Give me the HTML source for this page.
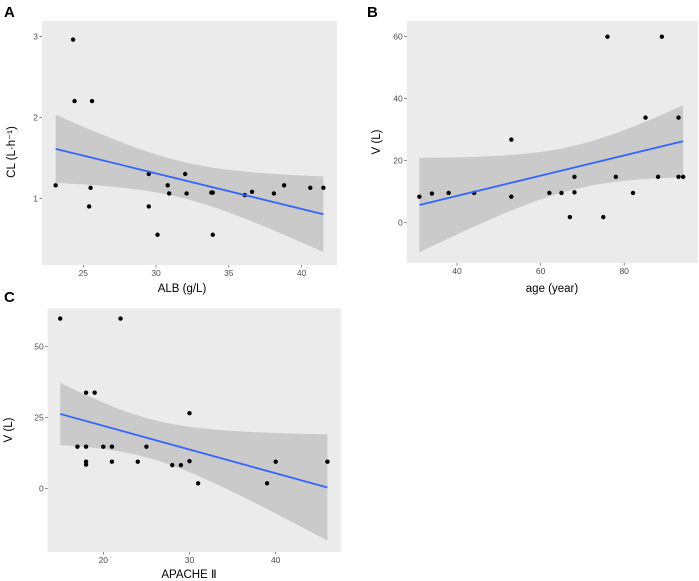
<!DOCTYPE html>
<html><head><meta charset="utf-8"><style>
body{margin:0;background:#fff;}
svg{display:block;font-family:"Liberation Sans",sans-serif;}
.tk{font-size:8.5px;fill:#4d4d4d;}
.ttl{font-size:11.5px;fill:#000;}
.pl{font-size:15px;font-weight:bold;fill:#000;}
</style></head><body>
<svg id="s" width="699" height="581" viewBox="0 0 699 581">
<text class="pl" x="4" y="17">A</text>
<text class="pl" x="367" y="17">B</text>
<text class="pl" x="4" y="302">C</text>
</svg>
<script>
const albX=[23.1,24.3,24.4,25.6,25.4,25.5,29.5,29.5,30.1,30.8,30.9,32.0,32.1,33.8,33.9,33.9,36.1,36.6,38.1,38.8,40.6,41.5];
const clY=[1.16,2.96,2.2,2.2,0.9,1.13,1.3,0.9,0.55,1.16,1.06,1.3,1.06,1.07,1.07,0.55,1.04,1.08,1.06,1.16,1.13,1.13];
const ageX=[31,34,38,44.1,53,53,62.1,65,67,68.1,68.1,75,76,78,82.1,85.1,88.1,89,93,93,94.1];
const vAgeY=[8.4,9.4,9.6,9.6,26.8,8.4,9.6,9.6,1.8,14.8,9.8,1.8,60,14.8,9.6,33.9,14.8,60,33.9,14.8,14.8];
const apX=[15,22,18,19,30,17,18,20,21,25,18,18,21,24,28,29,30,31,39,40,46];
const vApY=[59.9,59.9,33.8,33.8,26.6,14.8,14.8,14.8,14.8,14.8,9.5,8.5,9.5,9.5,8.3,8.3,9.7,1.9,1.9,9.5,9.5];
const aTicksX=[25,30,35,40], aTicksY=[1,2,3];
const bTicksX=[40,60,80], bTicksY=[0,20,40,60];
const cTicksX=[20,30,40], cTicksY=[0,25,50];
const NS="http://www.w3.org/2000/svg";
const svg=document.getElementById('s');
function mk(tag,attrs,parent){const e=document.createElementNS(NS,tag);for(const k in attrs)e.setAttribute(k,attrs[k]);(parent||svg).appendChild(e);return e;}
function panel(id,box,xs,ys,xt,yt,xlab,ylab,xsc,ysc,xtitle,ytitle){
  const g=mk('g',{});
  
  
  const bg=mk('rect',{x:box[0],y:box[1],width:box[2]-box[0],height:box[3]-box[1],fill:'#ebebeb'},g);
  
  
  // regression
  const n=xs.length;let mx=0,my=0;for(let i=0;i<n;i++){mx+=xs[i];my+=ys[i];}mx/=n;my/=n;
  let sxx=0,sxy=0;for(let i=0;i<n;i++){sxx+=(xs[i]-mx)**2;sxy+=(xs[i]-mx)*(ys[i]-my);}
  const b=sxy/sxx,a=my-b*mx;let sse=0;for(let i=0;i<n;i++)sse+=(ys[i]-a-b*xs[i])**2;
  const s=Math.sqrt(sse/(n-2)),t=2.09;
  const x0=Math.min(...xs),x1=Math.max(...xs);const up=[],lo=[];
  for(let k=0;k<=60;k++){const x=x0+(x1-x0)*k/60;const f=a+b*x;const h=t*s*Math.sqrt(1/n+(x-mx)**2/sxx);up.push(xsc(x)+','+ysc(f+h));lo.unshift(xsc(x)+','+ysc(f-h));}
  const band=mk('polygon',{points:up.concat(lo).join(' '),fill:'#999',opacity:0.4},g);
  
  
  for(let i=0;i<n;i++){const c=mk('circle',{cx:xsc(xs[i]),cy:ysc(ys[i]),r:2.2,fill:'#000'},g);
    
    }
  const ln=mk('line',{x1:xsc(x0),y1:ysc(a+b*x0),x2:xsc(x1),y2:ysc(a+b*x1),stroke:'#3366ff','stroke-width':1.8},g);
  
  
  xt.forEach(v=>{const X=xsc(v);mk('line',{x1:X,x2:X,y1:box[3],y2:box[3]+2.5,stroke:'#333','stroke-width':0.6},g);
    const tx=mk('text',{x:X,y:box[3]+11,'text-anchor':'middle',class:'tk'},g);tx.textContent=v;
    
    });
  yt.forEach(v=>{const Y=ysc(v);mk('line',{x1:box[0]-2.5,x2:box[0],y1:Y,y2:Y,stroke:'#333','stroke-width':0.6},g);
    const tx=mk('text',{x:box[0]-4,y:Y+3,'text-anchor':'end',class:'tk'},g);tx.textContent=v;
    
    });
  const xl=mk('text',{x:xtitle[0],y:xtitle[1],'text-anchor':'middle',class:'ttl'},g);xl.textContent=xlab;
  
  
  const yl=mk('text',{x:0,y:0,'text-anchor':'middle',class:'ttl',transform:`translate(${ytitle[0]},${ytitle[1]}) rotate(-90)`},g);yl.textContent=ylab;
  
  
}
panel('a',[42,21,337,265],albX,clY,aTicksX,aTicksY,'ALB (g/L)','CL (L·h⁻¹)',
  x=>83.3+(x-25)*14.55,y=>198.3-(y-1)*81,[182,292],[15,152]);
panel('b',[406.7,21,698,263],ageX,vAgeY,bTicksX,bTicksY,'age (year)','V (L)',
  x=>457+(x-40)*4.18,y=>222.7-y*3.1,[552,292],[380,142]);
panel('c',[47.7,308.3,340.7,552],apX,vApY,cTicksX,cTicksY,'APACHE Ⅱ','V (L)',
  x=>103.3+(x-20)*8.62,y=>488.7-y*2.84,[189,578],[12,430]);
</script>
</body></html>
